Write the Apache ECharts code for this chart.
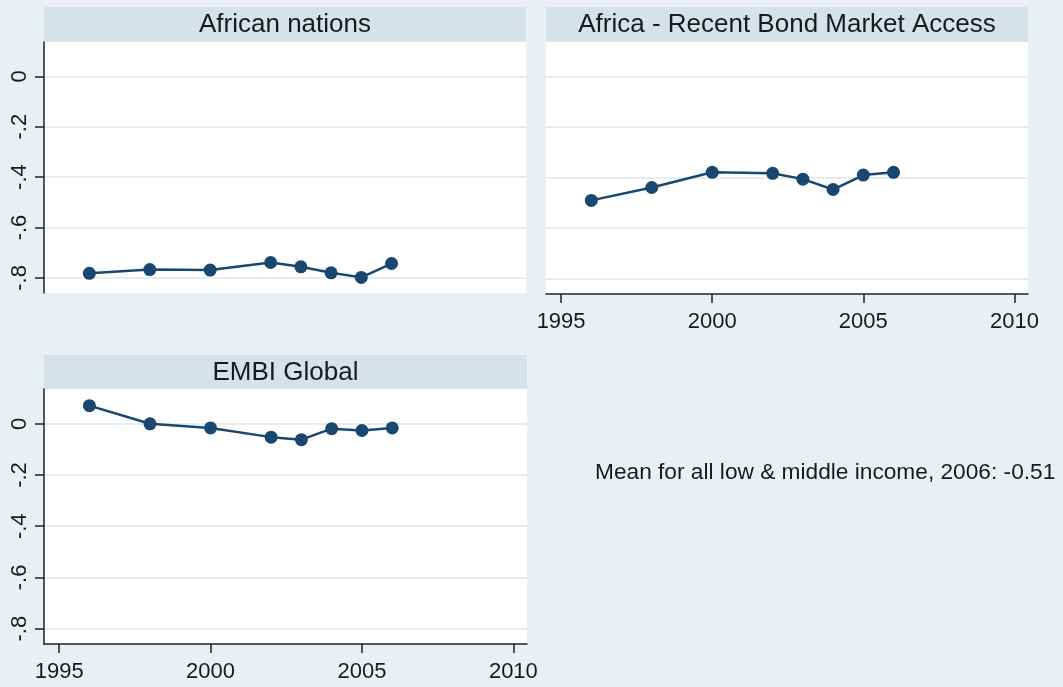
<!DOCTYPE html>
<html>
<head>
<meta charset="utf-8">
<script src="https://cdn.jsdelivr.net/npm/echarts@6/dist/echarts.min.js"></script>
<style>
  html, body { margin: 0; padding: 0; background: #e9eff3; }
  #chart { width: 1063px; height: 687px; }
</style>
</head>
<body>
<div id="chart"></div>
<script>
// Years observed and the index value for each group
const years = [1996, 1998, 2000, 2002, 2003, 2004, 2005, 2006];
const africanNations = [-0.782, -0.767, -0.769, -0.739, -0.756, -0.78, -0.798, -0.743];
const bondAccess = [-0.49, -0.439, -0.379, -0.383, -0.406, -0.447, -0.39, -0.379];
const embiGlobal = [0.071, 0.0, -0.016, -0.052, -0.062, -0.019, -0.026, -0.016];

const panelTitles = ['African nations', 'Africa - Recent Bond Market Access', 'EMBI Global'];
const xTicks = [1995, 2000, 2005, 2010];
const yTicks = [0, -0.2, -0.4, -0.6, -0.8];
const yTickLabels = ['0', '-.2', '-.4', '-.6', '-.8'];
const noteText = 'Mean for all low & middle income, 2006: -0.51';

const FONT = '"Liberation Sans", Arial, sans-serif';
const INK = '#1a1a1a';
const NAVY = '#1a476f';
const BAND = '#d6e2e9';
const GRIDLINE = '#e6edf1';

const panels = [
  { left: 44, top: 42, width: 482, height: 251, bandTop: 7, showX: false, showY: true, data: africanNations },
  { left: 546, top: 42, width: 482, height: 252, bandTop: 7, showX: true, showY: false, data: bondAccess },
  { left: 44, top: 389, width: 483, height: 255, bandTop: 355, showX: true, showY: true, data: embiGlobal }
];

const yLabelOf = v => {
  const i = yTicks.findIndex(t => Math.abs(t - v) < 1e-9);
  return i >= 0 ? yTickLabels[i] : '';
};

const grids = panels.map(p => ({
  left: p.left, top: p.top, width: p.width, height: p.height,
  show: true, backgroundColor: '#ffffff', borderWidth: 0, containLabel: false
}));

const xAxes = panels.map((p, i) => ({
  type: 'value', gridIndex: i, min: 1994.5, max: 2010.45,
  axisLine: { show: p.showX, onZero: false, lineStyle: { color: '#222', width: 1.5 } },
  axisTick: { show: p.showX, length: 9, lineStyle: { color: '#222', width: 1.5 }, customValues: xTicks },
  axisLabel: { show: p.showX, customValues: xTicks, color: INK, fontSize: 22, fontFamily: FONT, margin: 17,
               formatter: v => String(v) },
  splitLine: { show: false }
}));

const yAxes = panels.map((p, i) => ({
  type: 'value', gridIndex: i, min: -0.86, max: 0.136,
  axisLine: { show: p.showY, onZero: false, lineStyle: { color: '#222', width: 1.5 } },
  axisTick: { show: p.showY, length: 9, lineStyle: { color: '#222', width: 1.5 }, customValues: yTicks },
  axisLabel: { show: p.showY, customValues: yTicks, rotate: 90, color: INK, fontSize: 22, fontFamily: FONT,
               margin: 13, formatter: yLabelOf },
  splitLine: { show: true, lineStyle: { color: GRIDLINE, width: 2 } }
}));

const series = panels.map((p, i) => ({
  type: 'line', xAxisIndex: i, yAxisIndex: i,
  data: years.map((y, k) => [y, p.data[k]]),
  symbol: 'circle', symbolSize: 13,
  lineStyle: { color: NAVY, width: 2.5 },
  itemStyle: { color: NAVY },
  animation: false
}));

// Title bands above each panel
const graphics = [];
panels.forEach((p, i) => {
  graphics.push({
    type: 'rect', left: p.left, top: p.bandTop, silent: true,
    shape: { width: p.width, height: p.top - p.bandTop },
    style: { fill: BAND }
  });
  graphics.push({
    type: 'text', silent: true,
    x: p.left + p.width / 2, y: (p.bandTop + p.top) / 2 + 0.5,
    style: { text: panelTitles[i], fill: INK, font: '26px ' + FONT, textAlign: 'center', textVerticalAlign: 'middle' }
  });
});
graphics.push({
  type: 'text', silent: true, x: 595, y: 473,
  style: { text: noteText, fill: INK, font: '22.7px ' + FONT, textAlign: 'left', textVerticalAlign: 'middle' }
});

const chart = echarts.init(document.getElementById('chart'), null, { renderer: 'canvas' });
chart.setOption({
  backgroundColor: '#e9eff3',
  animation: false,
  grid: grids,
  xAxis: xAxes,
  yAxis: yAxes,
  series: series,
  graphic: graphics
});
</script>
</body>
</html>
